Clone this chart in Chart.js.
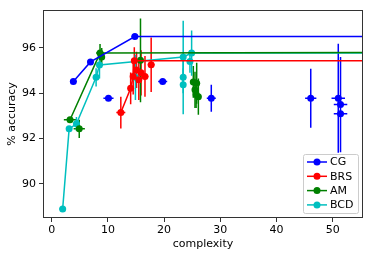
<!DOCTYPE html>
<html>
<head>
<meta charset="utf-8">
<script src="https://cdn.jsdelivr.net/npm/chart.js@4.4.1/dist/chart.umd.min.js"></script>
<style>
  html, body { margin: 0; padding: 0; background: #fff; }
  canvas { display: block; }
</style>
</head>
<body>
<canvas id="chart" width="373" height="258"></canvas>
<script>
// tick labels
const xTicks = [0, 10, 20, 30, 40, 50];
const yTicks = [90, 92, 94, 96];

// legend order
const methods = ["CG", "BRS", "AM", "BCD"];

// CG: all runs (x, y, x error, y error) and its frontier
const cgX    = [3.85, 6.9, 14.8, 10.1, 19.75, 28.4, 46.1, 51.0, 51.4, 51.4];
const cgY    = [94.52, 95.38, 96.5, 93.78, 94.52, 93.78, 93.78, 93.78, 93.5, 93.1];
const cgXErr = [0.6, 0.5, 0.6, 0.9, 0.8, 0.8, 1.0, 1.2, 1.2, 1.2];
const cgYErr = [0.05, 0.05, 0.05, 0.05, 0.05, 0.6, 1.3, 2.4, 2.1, 0.1];
const cgFrontX = [3.85, 6.9, 14.8, 60];
const cgFrontY = [94.52, 95.38, 96.5, 96.5];

// BRS
const brsX    = [12.3, 14.05, 14.5, 14.7, 15.1, 15.5, 16.6, 17.7, 15.9];
const brsY    = [93.15, 94.22, 94.74, 95.43, 95.03, 94.6, 94.74, 95.26, 94.9];
const brsXErr = [0.8, 0.4, 0.5, 0.5, 0.5, 0.5, 0.6, 0.6, 0.5];
const brsYErr = [0.7, 0.7, 0.8, 0.6, 0.8, 0.9, 0.9, 1.2, 1.0];
const brsFrontX = [12.3, 14.05, 14.5, 14.7, 60];
const brsFrontY = [93.15, 94.22, 94.74, 95.43, 95.43];

// AM
const amX    = [3.26, 4.9, 8.6, 8.9, 15.8, 25.2, 25.8, 25.5, 26.1, 25.7];
const amY    = [92.83, 92.43, 95.77, 95.6, 95.45, 94.5, 94.44, 94.15, 93.85, 93.95];
const amXErr = [1.1, 1.0, 0.7, 0.4, 0.5, 0.5, 0.5, 0.5, 0.5, 0.5];
const amYErr = [0.1, 0.4, 0.4, 0.4, 1.85, 0.7, 0.9, 0.8, 0.8, 0.6];
const amFrontX = [3.26, 8.6, 60];
const amFrontY = [92.83, 95.77, 95.8];

// BCD
const bcdX    = [1.95, 3.1, 4.4, 7.9, 8.5, 14.9, 23.4, 24.9, 24.6, 23.4, 23.4];
const bcdY    = [88.9, 92.43, 92.65, 94.7, 95.25, 94.7, 95.6, 95.77, 95.4, 94.7, 94.37];
const bcdXErr = [0.6, 0.5, 0.6, 0.5, 0.4, 0.4, 0.4, 0.5, 0.4, 0.4, 0.4];
const bcdYErr = [0.05, 0.1, 0.3, 0.4, 0.6, 1.0, 1.6, 1.0, 0.5, 0.4, 1.3];
const bcdFrontX = [1.95, 3.1, 4.4, 7.9, 8.5, 23.4, 24.9, 60];
const bcdFrontY = [88.9, 92.43, 92.65, 94.7, 95.25, 95.6, 95.77, 95.77];

const colors = ["#0000ff", "#ff0000", "#008000", "#00bfbf"];

const series = [
  [cgX, cgY, cgXErr, cgYErr, cgFrontX, cgFrontY],
  [brsX, brsY, brsXErr, brsYErr, brsFrontX, brsFrontY],
  [amX, amY, amXErr, amYErr, amFrontX, amFrontY],
  [bcdX, bcdY, bcdXErr, bcdYErr, bcdFrontX, bcdFrontY]
];

const zip = (xs, ys) => xs.map((x, i) => ({ x: x, y: ys[i] }));

const datasets = [];
series.forEach((s, i) => {
  datasets.push({
    label: methods[i] + " frontier",
    data: zip(s[4], s[5]),
    showLine: true,
    borderColor: colors[i],
    borderWidth: 1.5,
    pointRadius: 0,
    pointHoverRadius: 0
  });
  datasets.push({
    label: methods[i],
    data: zip(s[0], s[1]),
    xErr: s[2],
    yErr: s[3],
    showLine: false,
    backgroundColor: colors[i],
    borderColor: colors[i],
    pointRadius: 3.5,
    pointBorderWidth: 0
  });
});

const font = "DejaVu Sans";

// error bars, drawn under the markers
const errorBars = {
  id: "errorBars",
  beforeDatasetsDraw(chart) {
    const ctx = chart.ctx, a = chart.chartArea;
    const xs = chart.scales.x, ys = chart.scales.y;
    ctx.save();
    ctx.beginPath();
    ctx.rect(a.left, a.top, a.right - a.left, a.bottom - a.top);
    ctx.clip();
    ctx.lineWidth = 1.5;
    chart.data.datasets.forEach(ds => {
      if (!ds.xErr) return;
      ctx.strokeStyle = ds.borderColor;
      ds.data.forEach((p, i) => {
        const px = xs.getPixelForValue(p.x), py = ys.getPixelForValue(p.y);
        ctx.beginPath();
        ctx.moveTo(xs.getPixelForValue(p.x - ds.xErr[i]), py);
        ctx.lineTo(xs.getPixelForValue(p.x + ds.xErr[i]), py);
        ctx.moveTo(px, ys.getPixelForValue(p.y - ds.yErr[i]));
        ctx.lineTo(px, ys.getPixelForValue(p.y + ds.yErr[i]));
        ctx.stroke();
      });
    });
    ctx.restore();
  }
};

// axes frame and the matplotlib-style legend box
const frameAndLegend = {
  id: "frameAndLegend",
  afterDraw(chart) {
    const ctx = chart.ctx, a = chart.chartArea;
    ctx.save();
    ctx.strokeStyle = "#333";
    ctx.lineWidth = 1;
    ctx.strokeRect(a.left + 0.5, a.top + 0.5, a.right - a.left - 1, a.bottom - a.top - 1);

    const bx = 303, by = 154, bw = 55, bh = 59, rowH = 14.3;
    ctx.fillStyle = "rgba(255,255,255,0.85)";
    ctx.strokeStyle = "#cccccc";
    ctx.beginPath();
    ctx.roundRect(bx + 0.5, by + 0.5, bw, bh, 2);
    ctx.fill();
    ctx.stroke();
    ctx.font = "11px '" + font + "'";
    ctx.textBaseline = "middle";
    methods.forEach((m, i) => {
      const y = by + 8 + i * rowH;
      ctx.strokeStyle = colors[i];
      ctx.fillStyle = colors[i];
      ctx.lineWidth = 1.5;
      ctx.beginPath();
      ctx.moveTo(bx + 4, y);
      ctx.lineTo(bx + 24, y);
      ctx.stroke();
      ctx.beginPath();
      ctx.arc(bx + 14, y, 3.5, 0, Math.PI * 2);
      ctx.fill();
      ctx.fillStyle = "#000";
      ctx.fillText(m, bx + 27, y + 0.5);
    });
    ctx.restore();
  }
};

new Chart(document.getElementById("chart"), {
  type: "scatter",
  data: { datasets: datasets },
  plugins: [errorBars, frameAndLegend],
  options: {
    responsive: false,
    animation: false,
    layout: { padding: { top: 10, right: 10, left: 0, bottom: 0 } },
    plugins: { legend: { display: false }, tooltip: { enabled: false } },
    scales: {
      x: {
        type: "linear",
        min: -1.55,
        max: 55.4,
        afterBuildTicks: s => { s.ticks = xTicks.map(v => ({ value: v })); },
        afterFit: s => { s.height = 40; },
        grid: { drawOnChartArea: false, drawTicks: true, tickLength: 4, color: "#333" },
        border: { display: false },
        ticks: { color: "#000", font: { family: font, size: 11 }, padding: 2, maxRotation: 0 },
        title: { display: true, text: "complexity", color: "#000", font: { family: font, size: 11 }, padding: { top: 0, bottom: 7 } }
      },
      y: {
        type: "linear",
        min: 88.5,
        max: 97.67,
        afterBuildTicks: s => { s.ticks = yTicks.map(v => ({ value: v })); },
        afterFit: s => { s.width = 43; },
        grid: { drawOnChartArea: false, drawTicks: true, tickLength: 4, color: "#333" },
        border: { display: false },
        ticks: { color: "#000", font: { family: font, size: 11 }, padding: 3 },
        title: { display: true, text: "% accuracy", color: "#000", font: { family: font, size: 11 }, padding: { top: 6, bottom: 0 } }
      }
    }
  }
});
</script>
</body>
</html>
